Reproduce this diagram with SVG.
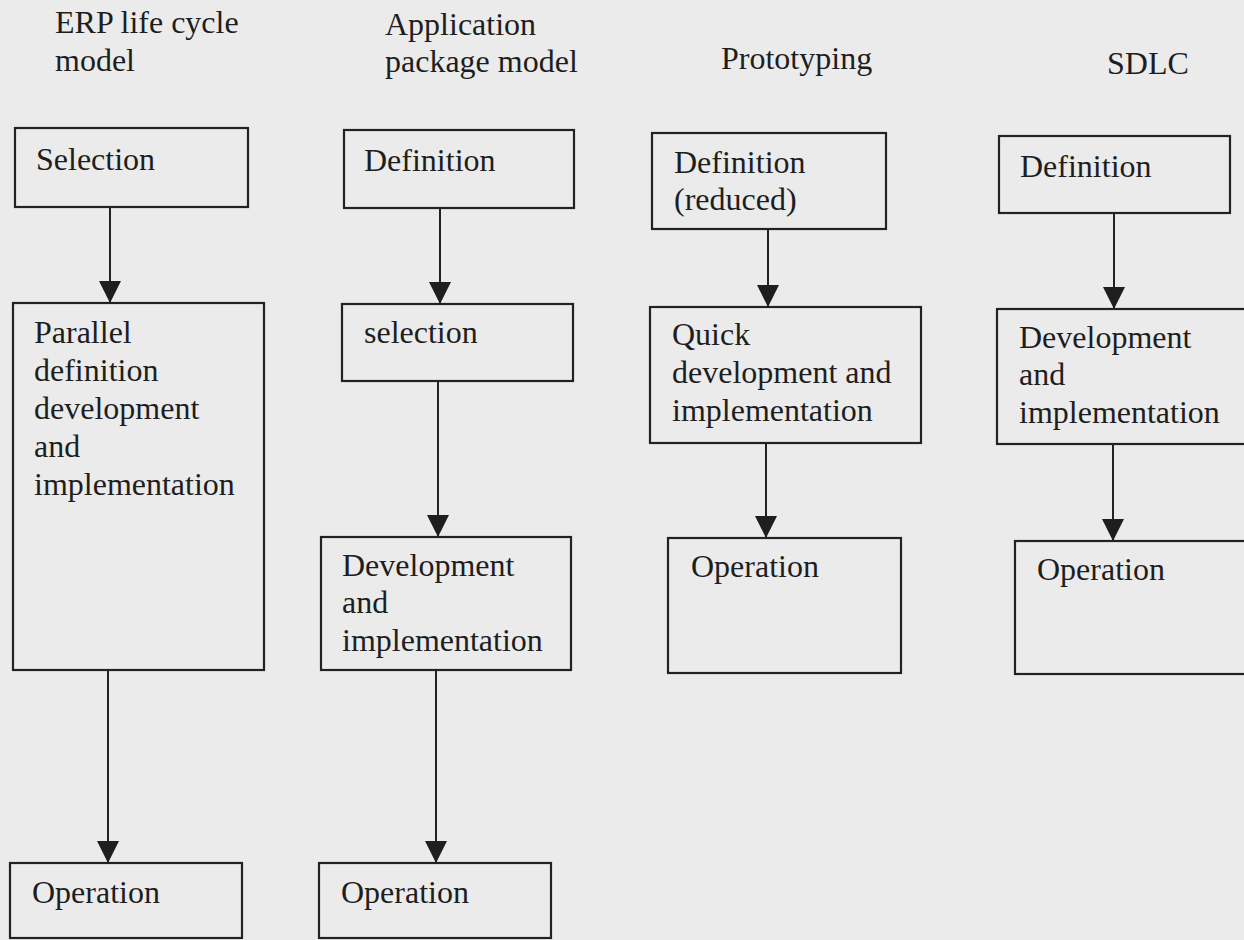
<svg xmlns="http://www.w3.org/2000/svg" width="1244" height="940" viewBox="0 0 1244 940">
<defs>
<style>
.bg{fill:#ebebeb}
.box{fill:none;stroke:#222;stroke-width:2.2}
.t{font-family:"Liberation Serif","Times New Roman",serif;font-size:32px;fill:#1e1e1e}
.c{stroke:#222;stroke-width:2;fill:none;marker-end:url(#ah)}
</style>
<marker id="ah" markerUnits="userSpaceOnUse" markerWidth="22" markerHeight="22" refX="20" refY="10" orient="auto" viewBox="0 0 20 20">
<path d="M0,0 L20,10 L0,20 z" fill="#1e1e1e"/>
</marker>
</defs>
<rect class="bg" x="0" y="0" width="1244" height="940"/>

<g id="titles">
<text class="t" x="55" y="33">ERP life cycle</text>
<text class="t" x="55" y="71">model</text>
<text class="t" x="385" y="35">Application</text>
<text class="t" x="385" y="72">package model</text>
<text class="t" x="721" y="69">Prototyping</text>
<text class="t" x="1107" y="74">SDLC</text>
</g>

<g id="connectors">
<line class="c" x1="110" y1="207" x2="110" y2="303"/>
<line class="c" x1="108" y1="670" x2="108" y2="863"/>
<line class="c" x1="440" y1="208" x2="440" y2="304"/>
<line class="c" x1="438" y1="381" x2="438" y2="537"/>
<line class="c" x1="436" y1="670" x2="436" y2="863"/>
<line class="c" x1="768" y1="229" x2="768" y2="307"/>
<line class="c" x1="766" y1="443" x2="766" y2="538"/>
<line class="c" x1="1114" y1="213" x2="1114" y2="309"/>
<line class="c" x1="1113" y1="444" x2="1113" y2="541"/>
</g>

<g id="erp-selection">
<rect class="box" x="15" y="128" width="233" height="79"/>
<text class="t" x="36" y="170">Selection</text>
</g>
<g id="erp-parallel">
<rect class="box" x="13" y="303" width="251" height="367"/>
<text class="t" x="34" y="343">Parallel</text>
<text class="t" x="34" y="381">definition</text>
<text class="t" x="34" y="419">development</text>
<text class="t" x="34" y="457">and</text>
<text class="t" x="34" y="495">implementation</text>
</g>
<g id="erp-operation">
<rect class="box" x="10" y="863" width="232" height="75"/>
<text class="t" x="32" y="903">Operation</text>
</g>

<g id="app-definition">
<rect class="box" x="344" y="130" width="230" height="78"/>
<text class="t" x="364" y="171">Definition</text>
</g>
<g id="app-selection">
<rect class="box" x="342" y="304" width="231" height="77"/>
<text class="t" x="364" y="343">selection</text>
</g>
<g id="app-development">
<rect class="box" x="321" y="537" width="250" height="133"/>
<text class="t" x="342" y="576">Development</text>
<text class="t" x="342" y="613">and</text>
<text class="t" x="342" y="651">implementation</text>
</g>
<g id="app-operation">
<rect class="box" x="319" y="863" width="232" height="75"/>
<text class="t" x="341" y="903">Operation</text>
</g>

<g id="proto-definition">
<rect class="box" x="652" y="133" width="234" height="96"/>
<text class="t" x="674" y="173">Definition</text>
<text class="t" x="674" y="210">(reduced)</text>
</g>
<g id="proto-quick">
<rect class="box" x="650" y="307" width="271" height="136"/>
<text class="t" x="672" y="345">Quick</text>
<text class="t" x="672" y="383">development and</text>
<text class="t" x="672" y="421">implementation</text>
</g>
<g id="proto-operation">
<rect class="box" x="668" y="538" width="233" height="135"/>
<text class="t" x="691" y="577">Operation</text>
</g>

<g id="sdlc-definition">
<rect class="box" x="999" y="136" width="231" height="77"/>
<text class="t" x="1020" y="177">Definition</text>
</g>
<g id="sdlc-development">
<rect class="box" x="997" y="309" width="260" height="135"/>
<text class="t" x="1019" y="348">Development</text>
<text class="t" x="1019" y="385">and</text>
<text class="t" x="1019" y="423">implementation</text>
</g>
<g id="sdlc-operation">
<rect class="box" x="1015" y="541" width="240" height="133"/>
<text class="t" x="1037" y="580">Operation</text>
</g>
</svg>
